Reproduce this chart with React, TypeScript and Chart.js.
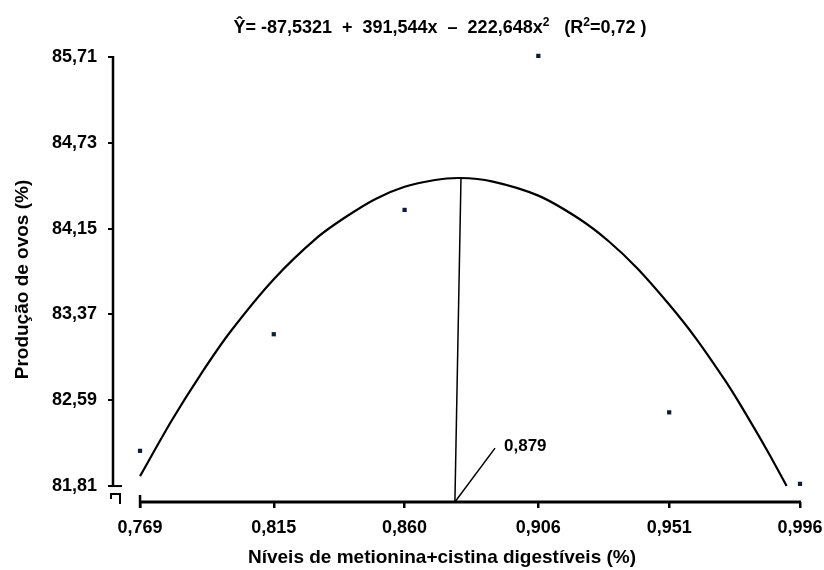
import React, { useEffect, useRef } from "react";
import { Chart, registerables } from "chart.js";

Chart.register(...registerables);

// ---- data ----
const xTicks = [0.769, 0.815, 0.86, 0.906, 0.951, 0.996];
const xTickLabels = ["0,769", "0,815", "0,860", "0,906", "0,951", "0,996"];
const yTicks = [81.81, 82.59, 83.37, 84.15, 84.93, 85.71];
const yTickLabels = ["81,81", "82,59", "83,37", "84,15", "84,73", "85,71"];

const obsX = [0.769, 0.815, 0.86, 0.906, 0.951, 0.996];
const obsY = [82.13, 83.19, 84.32, 85.72, 82.48, 81.83];

const curveX = [0.769, 0.78, 0.79, 0.8, 0.815, 0.83, 0.84, 0.85, 0.86, 0.87, 0.879, 0.89, 0.906, 0.92, 0.93, 0.94, 0.951, 0.96, 0.97, 0.975, 0.985, 0.9914];
const curveY = [81.9, 82.41, 82.83, 83.21, 83.69, 84.07, 84.26, 84.42, 84.53, 84.59, 84.61, 84.58, 84.45, 84.24, 84.04, 83.79, 83.46, 83.16, 82.78, 82.57, 82.12, 81.81];

const xMin = 0.7597;
const xMax = 0.996;
const yMin = 81.665;
const yMax = 85.71;

const peakLineX = [0.8773, 0.8794];
const peakLineY = [yMin, 84.62];
const leaderX = [0.8773, 0.8911];
const leaderY = [yMin, 82.155];
const optimumLabel = "0,879";
const optimumLabelPos = { x: 0.8942, y: 82.174 };

// title pieces: [text, isSuperscript]
const titleParts: [string, boolean][] = [
  ["Ŷ= -87,5321  +  391,544x  –  222,648x", false],
  ["2", true],
  ["   (R", false],
  ["2", true],
  ["=0,72 )", false],
];
const xTitle = "Níveis de metionina+cistina digestíveis (%)";
const yTitle = "Produção de ovos (%)";

const FONT = "'Liberation Sans', Arial, Helvetica, sans-serif";

const zip = (xs: number[], ys: number[]) => xs.map((x, i) => ({ x, y: ys[i] }));

const decorPlugin = {
  id: "decor",
  afterDraw(chart: any) {
    const ctx = chart.ctx;
    const xs = chart.scales.x;
    const ys = chart.scales.y;
    const L = chart.chartArea.left;
    const B = chart.chartArea.bottom;
    ctx.save();
    ctx.strokeStyle = "#000";
    ctx.lineCap = "butt";
    // y axis line
    ctx.lineWidth = 2.5;
    ctx.beginPath();
    ctx.moveTo(L, ys.getPixelForValue(yMax) - 1);
    ctx.lineTo(L, ys.getPixelForValue(81.81));
    ctx.stroke();
    // extend bottom tick to the right (axis end)
    const yb = ys.getPixelForValue(81.81);
    ctx.lineWidth = 2;
    ctx.beginPath();
    ctx.moveTo(L - 4, yb);
    ctx.lineTo(L + 9, yb);
    ctx.stroke();
    // break mark
    ctx.beginPath();
    ctx.moveTo(L - 3, B - 8);
    ctx.lineTo(L + 8, B - 8);
    ctx.moveTo(L + 7, B - 8);
    ctx.lineTo(L + 7, B + 2);
    ctx.moveTo(L - 2, B - 8);
    ctx.lineTo(L - 2, B - 3);
    ctx.stroke();
    // x axis line
    const x0 = xs.getPixelForValue(0.769);
    const x1 = xs.getPixelForValue(0.996);
    ctx.lineWidth = 3;
    ctx.beginPath();
    ctx.moveTo(x0, B);
    ctx.lineTo(x1 + 1, B);
    ctx.stroke();
    ctx.lineWidth = 2.5;
    ctx.beginPath();
    ctx.moveTo(x0, B - 7);
    ctx.lineTo(x0, B + 6);
    ctx.stroke();
    // optimum label
    ctx.fillStyle = "#000";
    ctx.font = `bold 17px ${FONT}`;
    ctx.textAlign = "left";
    ctx.textBaseline = "middle";
    ctx.fillText(optimumLabel, xs.getPixelForValue(optimumLabelPos.x), ys.getPixelForValue(optimumLabelPos.y));
    // x axis title
    ctx.font = `bold 19px ${FONT}`;
    ctx.textAlign = "center";
    ctx.fillText(xTitle, 442, 558);
    // chart title with superscripts
    const mainFont = `bold 18px ${FONT}`;
    const supFont = `bold 12px ${FONT}`;
    ctx.textAlign = "left";
    ctx.textBaseline = "alphabetic";
    let total = 0;
    for (const [t, sup] of titleParts) {
      ctx.font = sup ? supFont : mainFont;
      total += ctx.measureText(t).width;
    }
    let tx = 440 - total / 2;
    const base = 33;
    for (const [t, sup] of titleParts) {
      ctx.font = sup ? supFont : mainFont;
      ctx.fillText(t, tx, sup ? base - 7 : base);
      tx += ctx.measureText(t).width;
    }
    ctx.restore();
  },
};

export default function App() {
  const ref = useRef<HTMLCanvasElement | null>(null);
  useEffect(() => {
    if (!ref.current) return;
    const tickFont = { family: FONT, size: 18, weight: "bold" as const };
    const chart = new Chart(ref.current, {
      type: "scatter",
      data: {
        datasets: [
          {
            type: "line",
            data: zip(curveX, curveY),
            borderColor: "#000",
            borderWidth: 2.2,
            pointRadius: 0,
            tension: 0.3,
            fill: false,
          } as any,
          {
            type: "line",
            data: zip(peakLineX, peakLineY),
            borderColor: "#000",
            borderWidth: 1.5,
            pointRadius: 0,
            tension: 0,
            fill: false,
          } as any,
          {
            type: "line",
            data: zip(leaderX, leaderY),
            borderColor: "#000",
            borderWidth: 1.5,
            pointRadius: 0,
            tension: 0,
            fill: false,
          } as any,
          {
            type: "scatter",
            data: zip(obsX, obsY),
            pointStyle: "rect",
            pointRadius: 3,
            backgroundColor: "#0d1b3a",
            borderWidth: 0,
            clip: false,
          } as any,
        ],
      },
      options: {
        animation: false,
        responsive: false,
        devicePixelRatio: 1,
        layout: { padding: { top: 57, right: 24, left: 0, bottom: 0 } },
        plugins: {
          legend: { display: false },
          tooltip: { enabled: false },
          title: { display: false },
        },
        scales: {
          x: {
            type: "linear",
            min: xMin,
            max: xMax,
            afterBuildTicks: (s: any) => {
              s.ticks = xTicks.map((v) => ({ value: v }));
            },
            afterFit: (s: any) => {
              s.height = 68;
              s.paddingLeft = 0;
              s.paddingRight = 0;
            },
            ticks: {
              callback: (_v: any, i: number) => xTickLabels[i],
              font: tickFont,
              color: "#000",
              padding: 9,
              maxRotation: 0,
              autoSkip: false,
            },
            grid: { drawOnChartArea: false, drawTicks: true, tickLength: 6, color: "#000", lineWidth: 2.5 },
            border: { display: false },
            title: { display: false },
          },
          y: {
            type: "linear",
            min: yMin,
            max: yMax,
            afterBuildTicks: (s: any) => {
              s.ticks = yTicks.map((v) => ({ value: v }));
            },
            afterFit: (s: any) => {
              s.width = 113;
              s.paddingTop = 0;
              s.paddingBottom = 0;
            },
            ticks: {
              callback: (_v: any, i: number) => yTickLabels[i],
              font: tickFont,
              color: "#000",
              padding: 11,
              autoSkip: false,
            },
            grid: { drawOnChartArea: false, drawTicks: true, tickLength: 5, color: "#000", lineWidth: 2 },
            border: { display: false },
            title: {
              display: true,
              text: yTitle,
              font: { family: FONT, size: 19, weight: "bold" },
              color: "#000",
              padding: { top: 11, bottom: 0 },
            },
          },
        },
      } as any,
      plugins: [decorPlugin],
    });
    return () => chart.destroy();
  }, []);
  return (
    <div style={{ position: "absolute", left: 0, top: 0, width: 824, height: 570, background: "#fff" }}>
      <canvas ref={ref} width={824} height={570} />
    </div>
  );
}
